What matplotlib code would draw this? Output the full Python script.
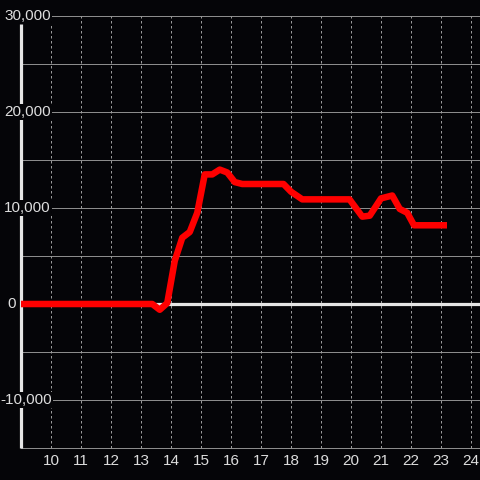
import matplotlib
matplotlib.use("Agg")
import matplotlib.pyplot as plt

# data
hours = [9.0, 13.375, 13.625, 13.875, 14.125, 14.375, 14.625, 14.875, 15.125, 15.375,
         15.625, 15.875, 16.125, 16.375, 17.0, 17.75, 18.0, 18.375, 19.0, 19.95,
         20.375, 20.625, 21.0, 21.375, 21.625, 21.875, 22.1, 23.2]
values = [0, 0, -600, 100, 4500, 6900, 7500, 9500, 13500, 13500,
          14000, 13700, 12700, 12500, 12500, 12500, 11700, 10900, 10900, 10900,
          9100, 9200, 11000, 11300, 9900, 9500, 8200, 8200]
x_ticks = list(range(10, 25))
y_grid = [30000, 25000, 20000, 15000, 10000, 5000, -5000, -10000, -15000]
y_labels = {30000: "30,000", 20000: "20,000", 10000: "10,000", 0: "0", -10000: "-10,000"}

BG = "#050508"
plt.rcParams['font.family'] = ['Liberation Sans', 'DejaVu Sans']

fig = plt.figure(figsize=(4.8, 4.8), dpi=100, facecolor=BG)
ax = fig.add_axes([0, 0, 1, 1])
ax.set_facecolor(BG)
px = 30.0
x0 = 9.0 - 21 / px
x1 = 9.0 + 459 / px
ax.set_xlim(x0, x1)
ax.set_ylim(-176 / 96 * 10000, 304 / 96 * 10000)
ax.axis('off')

lw1 = 0.72
for y in y_grid:
    ax.plot([9.0, x1], [y, y], color="#8c8c8c", lw=lw1, zorder=1)
for x in x_ticks:
    ax.plot([x, x], [-15000, 30000], color="#9a9a9a", lw=lw1,
            linestyle=(0, (2.5, 2.5)), zorder=1)

# spine and zero line
ax.plot([9.0, 9.0], [-15000, 29170], color="#e6e6e6", lw=2.3, zorder=2, solid_capstyle='butt')
ax.plot([9.0, x1], [0, 0], color="#e6e6e6", lw=2.3, zorder=2, solid_capstyle='butt')

# data line
ax.plot(hours, values, color="#ff0000", lw=4.7, zorder=4,
        solid_joinstyle='round', solid_capstyle='butt')

# labels
label_pos = {30000: (51, 'right'), 20000: (51, 'right'), 10000: (51, 'right'),
             0: (12, 'center'), -10000: (52, 'right')}
for v, t in y_labels.items():
    p, ha = label_pos[v]
    ax.text(9.0 + (p - 21) / px, v, t, ha=ha, va='center', color="#dddddd",
            fontsize=11, zorder=5,
            bbox=dict(facecolor=BG, edgecolor='none', pad=0.6))
ylab = (304 - 461) / 96 * 10000
for x in x_ticks:
    ax.text(x, ylab, str(x), ha='center', va='center', color="#dddddd",
            fontsize=11, zorder=5)

fig.savefig("out.png", dpi=100, facecolor=BG)
